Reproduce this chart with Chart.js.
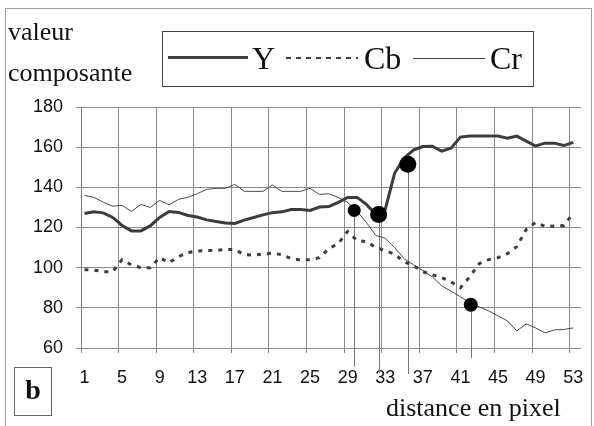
<!DOCTYPE html>
<html>
<head>
<meta charset="utf-8">
<script src="https://cdn.jsdelivr.net/npm/chart.js@4.4.0/dist/chart.umd.min.js"></script>
<style>
    body { margin: 0; background: #fff; }
    #wrap { position: relative; width: 594px; height: 426px; overflow: hidden; font-family: "Liberation Serif", "Times New Roman", serif; color: #111; }
    #frame { position: absolute; left: 5px; top: 8px; width: 585px; height: 430px; border: 1px solid #a0a0a0; }
    #chart { position: absolute; left: 0; top: 0; }
    .t { position: absolute; white-space: nowrap; }
    .ln { position: absolute; }
</style>
</head>
<body>
<div id="wrap">
    <div id="frame"></div>
    <canvas id="chart" width="594" height="426"></canvas>

    <div class="t" style="left:8px; top:11px; font-size:26px; line-height:41px;">valeur<br>composante</div>

    <div class="ln" style="left:162px; top:31px; width:370px; height:54px; border:1px solid #444;"></div>
    <div class="ln" style="left:168px; top:56px; width:80px; height:3px; background:#404040;"></div>
    <div class="t" style="left:252px; top:42px; font-size:32px; line-height:32px;">Y</div>
    <div class="ln" style="left:286px; top:57px; width:72px; height:2px; background:repeating-linear-gradient(90deg, #404040 0 5px, transparent 5px 10px);"></div>
    <div class="t" style="left:364px; top:42px; font-size:32px; line-height:32px;">Cb</div>
    <div class="ln" style="left:413px; top:58px; width:72px; height:1px; background:#404040;"></div>
    <div class="t" style="left:490px; top:42px; font-size:32px; line-height:32px;">Cr</div>

    <div class="ln" style="left:14px; top:367px; width:36px; height:47px; border:1px solid #666;"></div>
    <div class="t" style="left:14px; top:372px; width:38px; text-align:center; font-size:28px; line-height:36px; font-weight:bold;">b</div>

    <div class="t" style="left:386px; top:392px; font-size:26px; line-height:32px;">distance en pixel</div>
</div>

<script>
// distance en pixel (1..53)
var pixels = [];
for (var p = 1; p <= 53; p++) pixels.push(p);

var yValues = [127, 127.8, 127.3, 125, 121, 118.3, 118.3, 120.8, 125, 128,
               127.5, 126, 125.2, 123.8, 123, 122.2, 122, 123.7, 125, 126.3,
               127.4, 127.8, 129, 129, 128.5, 130.2, 130.4, 132.5, 135, 135,
               131.5, 126.5, 129, 147, 154.5, 158.5, 160.3, 160.5, 158, 159.5,
               165, 165.6, 165.6, 165.6, 165.5, 164.5, 165.5, 163, 160.6, 162,
               162, 160.8, 162.4];

var cbValues = [99, 98.8, 98, 98, 104, 101.3, 100, 100, 105, 102.5,
                105.5, 107.5, 108.3, 108.6, 108.6, 109, 109, 106.5, 106.3, 106.8,
                107.2, 106.5, 104.5, 103.8, 104, 105, 109.5, 112, 118, 113.5,
                113, 110, 108.5, 106.7, 103, 101, 98, 96.5, 95, 93,
                90, 95.5, 102, 104, 105, 107, 110.5, 119, 122.5, 120.5,
                120.8, 121, 127];

var crValues = [136, 135, 132.6, 130.6, 131, 128, 131.5, 130, 133.5, 131.3,
                134, 135, 136.8, 139, 139.5, 139.5, 141.5, 138, 138, 138,
                141.2, 138, 138, 138, 139.5, 136.5, 136.8, 135, 132.5, 128,
                122.5, 116, 114.7, 110, 104.5, 101.5, 98.5, 95.5, 91, 88.3,
                85.5, 82.5, 80.5, 78.5, 76, 73.5, 68.5, 72, 70, 67.5,
                69, 69.2, 70];

// points marques (gros points noirs)
var markX = [29.7, 32.3, 35.4, 42.1];
var markY = [128.5, 126.5, 151.5, 81.5];

var xTicks = [1, 5, 9, 13, 17, 21, 25, 29, 33, 37, 41, 45, 49, 53];
var yTicks = [60, 80, 100, 120, 140, 160, 180];

// styles
var markRadius = [6.5, 8.5, 8.5, 7];
var dropLength = [19, 25, 26, 10];
var gridShift = 0.37;

function toPoints(values) {
    return pixels.map(function(x, i) { return { x: x, y: values[i] }; });
}

var dropLines = {
    id: 'dropLines',
    beforeDatasetsDraw: function(chart) {
        var ctx = chart.ctx;
        var xs = chart.scales.x, ys = chart.scales.y;
        ctx.save();
        ctx.strokeStyle = '#777';
        ctx.lineWidth = 1;
        markX.forEach(function(v, i) {
            var px = Math.round(xs.getPixelForValue(v)) + 0.5;
            ctx.beginPath();
            ctx.moveTo(px, ys.getPixelForValue(markY[i]));
            ctx.lineTo(px, chart.chartArea.bottom + dropLength[i]);
            ctx.stroke();
        });
        ctx.restore();
    }
};

var tickFont = { family: '"Liberation Sans", Arial, sans-serif', size: 18 };

var ctx = document.getElementById('chart');
var chart = new Chart(ctx, {
    type: 'line',
    data: {
        datasets: [{
            label: 'marques',
            data: markX.map(function(x, i) { return { x: x, y: markY[i] }; }),
            showLine: false,
            pointRadius: markRadius,
            pointBackgroundColor: '#000',
            pointBorderWidth: 0
        }, {
            label: 'Y',
            data: toPoints(yValues),
            borderColor: '#3c3c3c',
            borderWidth: 3,
            pointRadius: 0,
            tension: 0
        }, {
            label: 'Cb',
            data: toPoints(cbValues),
            borderColor: '#3c3c3c',
            borderWidth: 3,
            borderDash: [4, 6],
            pointRadius: 0,
            tension: 0
        }, {
            label: 'Cr',
            data: toPoints(crValues),
            borderColor: '#4a4a4a',
            borderWidth: 1,
            pointRadius: 0,
            tension: 0
        }]
    },
    options: {
        responsive: false,
        animation: false,
        events: [],
        layout: { padding: { left: 0, top: 107, right: 12, bottom: 0 } },
        plugins: {
            legend: { display: false },
            tooltip: { enabled: false }
        },
        scales: {
            x: {
                type: 'linear',
                min: xTicks[0] - gridShift,
                max: 53.83,
                afterFit: function(s) { s.height = 78; },
                afterBuildTicks: function(s) {
                    s.ticks = xTicks.map(function(v) { return { value: v - gridShift }; });
                },
                grid: { color: '#8a8a8a', tickLength: 5, tickColor: '#8a8a8a' },
                border: { color: '#8a8a8a' },
                ticks: {
                    font: tickFont,
                    color: '#111',
                    padding: 14,
                    labelOffset: 3.5,
                    maxRotation: 0,
                    callback: function(v, i) { return xTicks[i]; }
                }
            },
            y: {
                min: yTicks[0],
                max: yTicks[yTicks.length - 1],
                afterFit: function(s) { s.width = 81; },
                afterBuildTicks: function(s) {
                    s.ticks = yTicks.map(function(v) { return { value: v }; });
                },
                grid: { color: '#8a8a8a', tickLength: 5, tickColor: '#8a8a8a' },
                border: { color: '#777' },
                ticks: {
                    font: tickFont,
                    color: '#111',
                    padding: 13
                }
            }
        }
    },
    plugins: [dropLines]
});
</script>
</body>
</html>
